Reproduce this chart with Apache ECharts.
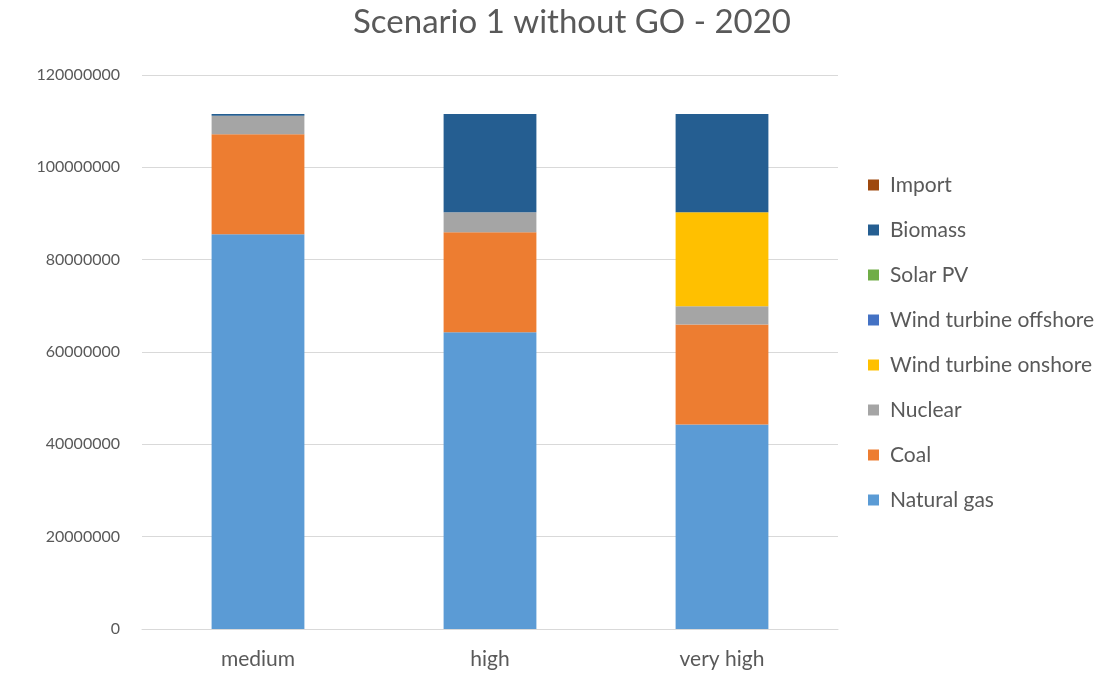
<!DOCTYPE html>
<html>
<head>
<meta charset="utf-8">
<script src="https://cdn.jsdelivr.net/npm/echarts@6/dist/echarts.min.js"></script>
<style>
  html, body { margin: 0; padding: 0; background: #ffffff; }
  #chart { width: 1111px; height: 675px; }
</style>
</head>
<body>
<div id="chart"></div>
<script>
// Electricity generation mix per demand level, stacked bottom to top
const categories = ['medium', 'high', 'very high'];
const seriesNames = ['Natural gas', 'Coal', 'Nuclear', 'Wind turbine onshore', 'Wind turbine offshore', 'Solar PV', 'Biomass', 'Import'];
const naturalGas = [85500000, 64300000, 44300000];
const coal = [21650000, 21650000, 21650000];
const nuclear = [4050000, 4300000, 3950000];
const windOnshore = [0, 0, 20350000];
const windOffshore = [0, 0, 0];
const solarPV = [0, 0, 0];
const biomass = [350000, 21300000, 21300000];
const importPower = [0, 0, 0];
const yTicks = { min: 0, max: 120000000, interval: 20000000 };

const seriesValues = [naturalGas, coal, nuclear, windOnshore, windOffshore, solarPV, biomass, importPower];
const colors = ['#5B9BD5', '#ED7D31', '#A5A5A5', '#FFC000', '#4472C4', '#70AD47', '#255E91', '#9E480E'];

const font = 'Lato, "Open Sans", sans-serif';
const chart = echarts.init(document.getElementById('chart'));

chart.setOption({
  animation: false,
  backgroundColor: '#ffffff',
  title: {
    text: 'Scenario 1 without GO - 2020',
    left: 567,
    top: 1,
    textAlign: 'center',
    textStyle: { fontFamily: font, fontSize: 33, fontWeight: 'normal', color: '#595959' }
  },
  legend: {
    orient: 'vertical',
    left: 863,
    top: 168,
    itemWidth: 11,
    itemHeight: 11,
    itemGap: 21,
    icon: 'rect',
    data: seriesNames.slice().reverse(),
    textStyle: { fontFamily: font, fontSize: 21, color: '#595959', lineHeight: 24, padding: [0, 0, 0, 6] }
  },
  grid: { left: 142, right: 273, top: 75, bottom: 46 },
  xAxis: {
    type: 'category',
    data: categories,
    axisTick: { show: false },
    axisLine: { lineStyle: { color: '#D9D9D9', width: 1 } },
    axisLabel: { fontFamily: font, fontSize: 21, color: '#595959', margin: 20 }
  },
  yAxis: {
    type: 'value',
    min: yTicks.min,
    max: yTicks.max,
    interval: yTicks.interval,
    axisLine: { show: false },
    axisTick: { show: false },
    splitLine: { lineStyle: { color: '#D9D9D9', width: 1 } },
    axisLabel: {
      fontFamily: font, fontSize: 16, color: '#595959', margin: 22,
      formatter: (v) => String(v)
    }
  },
  series: seriesNames.map((name, i) => ({
    name: name,
    type: 'bar',
    stack: 'total',
    barWidth: '40%',
    data: seriesValues[i],
    itemStyle: { color: colors[i] }
  }))
});
</script>
</body>
</html>
